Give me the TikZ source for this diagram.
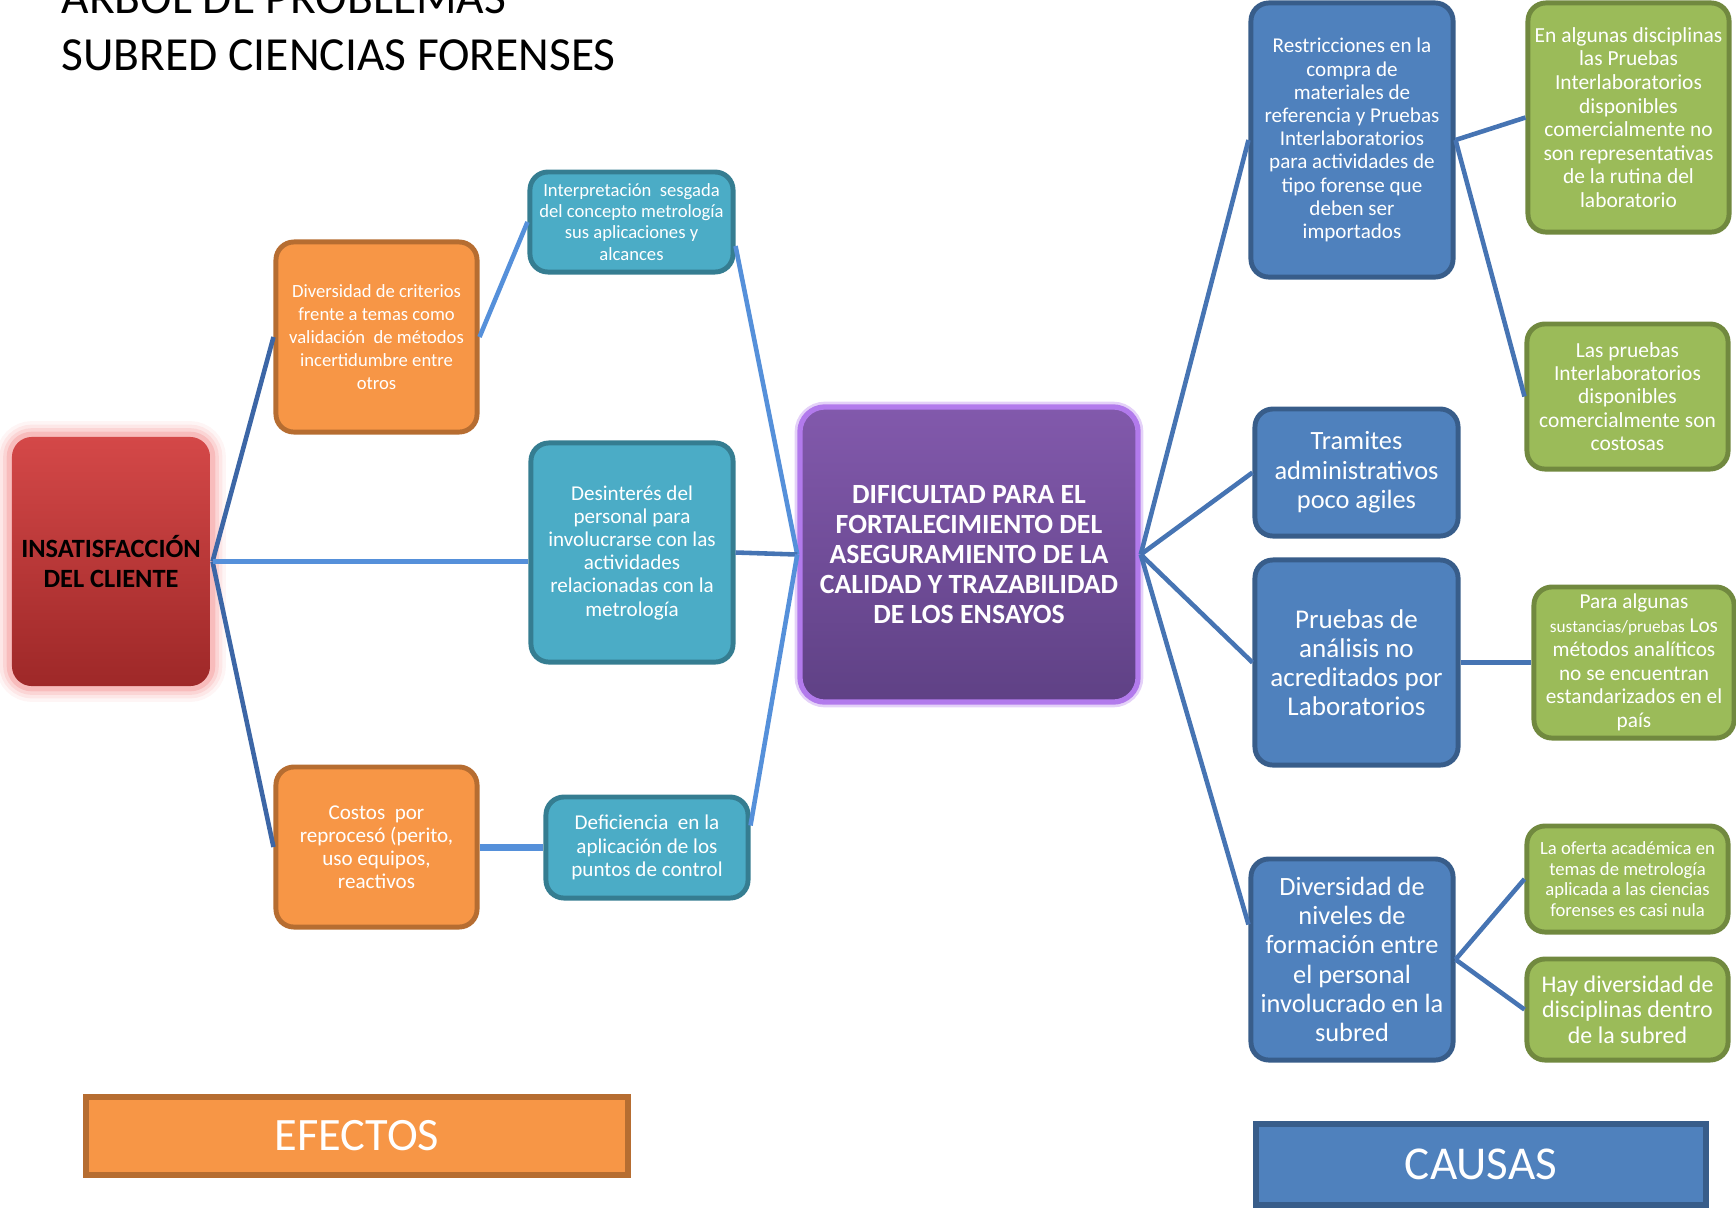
\documentclass[tikz,border=0pt]{standalone}
\usepackage{fontspec}
\setmainfont{Carlito}
\usetikzlibrary{calc}
\definecolor{oraF}{HTML}{F79646}
\definecolor{oraD}{HTML}{B66D31}
\definecolor{teaF}{HTML}{4BACC6}
\definecolor{teaD}{HTML}{357D91}
\definecolor{bluF}{HTML}{4F81BD}
\definecolor{bluD}{HTML}{385D8A}
\definecolor{greF}{HTML}{9BBB59}
\definecolor{greD}{HTML}{71893F}
\definecolor{lnDark}{HTML}{3C66A6}
\definecolor{lnLight}{HTML}{5590DA}
\definecolor{lnRight}{HTML}{4674B3}
\definecolor{redT}{HTML}{D44848}
\definecolor{redB}{HTML}{9E2828}
\definecolor{redGlow}{HTML}{F07070}
\definecolor{purT}{HTML}{8259AC}
\definecolor{purB}{HTML}{5F4185}
\definecolor{purD}{HTML}{B27AEC}
\newcommand\myfs[2]{\fontsize{#1pt}{#2pt}\selectfont}
\begin{document}
\begin{tikzpicture}[x=0.01cm,y=-0.01cm,
  cbox/.style={rounded corners=0.18cm, line width=1.4pt, text=white, align=center, inner sep=0pt},
  obox/.style={cbox, fill=oraF, draw=oraD},
  tbox/.style={cbox, fill=teaF, draw=teaD},
  bbox/.style={cbox, fill=bluF, draw=bluD},
  gbox/.style={cbox, fill=greF, draw=greD},
  lnd/.style={draw=lnDark, line width=1.3pt},
  lnl/.style={draw=lnLight, line width=1.3pt},
  lnr/.style={draw=lnRight, line width=1.3pt},
  title/.style={anchor=base west, inner sep=0pt, font=\myfs{13.5}{16}}
]
\useasboundingbox (0,0) rectangle (1736,1208);

% title
\node[title] (t1) at (61,13) {ÁRBOL DE PROBLEMAS};
\node[title] (t2) at (61,70) {SUBRED CIENCIAS FORENSES};

% effect side
\node[cbox, rounded corners=0.2cm, top color=redT, bottom color=redB, text=black,
  preaction={draw=redGlow, line width=9pt, opacity=0.07, rounded corners=0.2cm},
  preaction={draw=redGlow, line width=7pt, opacity=0.1, rounded corners=0.2cm},
  preaction={draw=redGlow, line width=5pt, opacity=0.15, rounded corners=0.2cm},
  preaction={draw=redGlow, line width=3pt, opacity=0.25, rounded corners=0.2cm},
  minimum width=1.98cm, minimum height=2.49cm,
  font=\bfseries\myfs{7.5}{8.3}] (red) at (111,561.5) {INSATISFACCIÓN\\DEL CLIENTE};

\node[obox, minimum width=2.01cm, minimum height=1.90cm, font=\myfs{5.3}{6.5}] (ora1) at (376.5,337)
  {Diversidad de criterios\\frente a temas como\\validación~ de métodos\\incertidumbre entre\\otros};
\node[tbox, minimum width=2.03cm, minimum height=1.00cm, font=\myfs{5.3}{6.0}] (int) at (631.5,222)
  {Interpretación~ sesgada\\del concepto metrología\\sus aplicaciones y\\alcances};
\node[tbox, minimum width=2.02cm, minimum height=2.19cm, font=\myfs{6.0}{6.6}] (des) at (632,552.5)
  {Desinterés del\\personal para\\involucrarse con las\\actividades\\relacionadas con la\\metrología};
\node[obox, minimum width=2.01cm, minimum height=1.60cm, font=\myfs{6.0}{6.55}] (cos) at (376.5,847)
  {Costos~ por\\reprocesó (perito,\\uso equipos,\\reactivos};
\node[tbox, minimum width=2.02cm, minimum height=1.01cm, font=\myfs{6.0}{6.7}] (def) at (647,847.5)
  {Deficiencia~ en la\\aplicación de los\\puntos de control};

% central problem
\node[cbox, rounded corners=0.25cm, top color=purT, bottom color=purB, draw=purD, line width=1.5pt,
  preaction={draw=purD, line width=3pt, opacity=0.35, rounded corners=0.25cm},
  minimum width=3.38cm, minimum height=2.95cm, font=\bfseries\myfs{7.9}{8.55}] (pur) at (969,554.5)
  {DIFICULTAD PARA EL\\FORTALECIMIENTO DEL\\ASEGURAMIENTO DE LA\\CALIDAD Y TRAZABILIDAD\\DE LOS ENSAYOS};

% cause side
\node[bbox, minimum width=2.02cm, minimum height=2.74cm, font=\myfs{6.0}{6.6}] (res) at (1352,140)
  {Restricciones en la\\compra de\\materiales de\\referencia y Pruebas\\Interlaboratorios\\para actividades de\\tipo forense que\\deben ser\\importados};
\node[gbox, minimum width=2.01cm, minimum height=2.29cm, font=\myfs{6.1}{6.7}] (g1) at (1628.5,117.5)
  {En algunas disciplinas\\las Pruebas\\Interlaboratorios\\disponibles\\comercialmente no\\son representativas\\de la rutina del\\laboratorio};
\node[gbox, minimum width=2.01cm, minimum height=1.45cm, font=\myfs{6.1}{6.6}] (g2) at (1627.5,396.5)
  {Las pruebas\\Interlaboratorios\\disponibles\\comercialmente son\\costosas};
\node[bbox, minimum width=2.03cm, minimum height=1.27cm, font=\myfs{7.5}{8.4}] (tra) at (1356.5,472.5)
  {Tramites\\administrativos\\poco agiles};
\node[bbox, minimum width=2.03cm, minimum height=2.05cm, font=\myfs{7.7}{8.25}] (pru) at (1356.5,662.5)
  {Pruebas de\\análisis no\\acreditados por\\Laboratorios};
\node[gbox, minimum width=2.00cm, minimum height=1.51cm, font=\myfs{6.05}{6.75}] (g3) at (1634,662.5)
  {Para algunas\\{\myfs{4.9}{6.75}sustancias/pruebas} Los\\métodos analíticos\\no se encuentran\\estandarizados en el\\país};
\node[bbox, minimum width=2.02cm, minimum height=2.01cm, font=\myfs{7.5}{8.3}] (div) at (1352,959.5)
  {Diversidad de\\niveles de\\formación entre\\el personal\\involucrado en la\\subred};
\node[gbox, minimum width=2.01cm, minimum height=1.06cm, font=\myfs{5.3}{5.9}] (g4) at (1627.5,879)
  {La oferta académica en\\temas de metrología\\aplicada a las ciencias\\forenses es casi nula};
\node[gbox, minimum width=2.01cm, minimum height=1.01cm, font=\myfs{6.8}{7.3}] (g5) at (1627.5,1009.5)
  {Hay diversidad de\\disciplinas dentro\\de la subred};

% legend boxes
\node[fill=oraF, draw=oraD, line width=1.6pt, text=white, inner sep=0pt,
  minimum width=5.42cm, minimum height=0.78cm, font=\myfs{13.2}{15}] (efe) at (357,1136) {EFECTOS};
\node[fill=bluF, draw=bluD, line width=1.6pt, text=white, inner sep=0pt,
  minimum width=4.50cm, minimum height=0.81cm, font=\myfs{13.4}{15}] (cau) at (1481,1164.5) {CAUSAS};

% connectors: effects
\draw[lnd] (red.east) -- (ora1.west);
\draw[lnd] (red.east) -- (cos.west);
\draw[lnl] (red.east) -- (red.east -| des.west);
\draw[lnl] (ora1.east) -- (int.west);
\draw[lnl] ($(int.east)+(0,24)$) -- (pur.west);
\draw[lnr] (des.east) -- (pur.west);
\draw[lnl, line width=2pt] (cos.east) -- (cos.east -| def.west);
\draw[lnl] ($(def.east)+(0,-22)$) -- (pur.west);

% connectors: causes
\draw[lnr] (pur.east) -- (res.west);
\draw[lnr] (pur.east) -- (tra.west);
\draw[lnr] (pur.east) -- (pru.west);
\draw[lnr] (pur.east) -- ($(div.west)+(0,-35)$);
\draw[lnr] (res.east) -- (g1.west);
\draw[lnr] (res.east) -- (g2.west);
\draw[lnr] (pru.east) -- (g3.west);
\draw[lnr] (div.east) -- (g4.west);
\draw[lnr] (div.east) -- (g5.west);
\end{tikzpicture}
\end{document}
